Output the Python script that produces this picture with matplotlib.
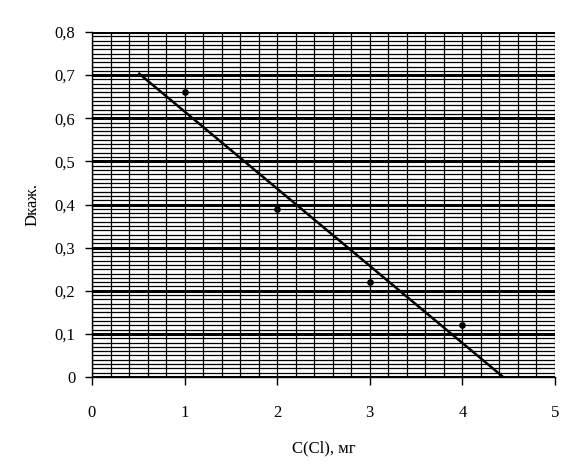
import numpy as np
import matplotlib
matplotlib.use("Agg")
import matplotlib.pyplot as plt

# Data
conc = [1, 2, 3, 4]
absorb = [0.66, 0.39, 0.22, 0.12]
trend_x = [0.5, 4.44]
trend_y = [0.705, 0.0]

x_ticks = [0, 1, 2, 3, 4, 5]
y_ticks = [0, 0.1, 0.2, 0.3, 0.4, 0.5, 0.6, 0.7, 0.8]
y_tick_labels = ["0", "0,1", "0,2", "0,3", "0,4", "0,5", "0,6", "0,7", "0,8"]

fig = plt.figure(figsize=(5.75, 4.75), dpi=100)
ax = fig.add_axes([92/575, 1 - 377/475, (555-92)/575, (377-32)/475])
ax.set_xlim(0, 5)
ax.set_ylim(0, 0.8)

# grid
for v in np.arange(0, 5.0001, 0.2):
    ax.axvline(v, color="black", lw=0.9, zorder=1)
for h in np.arange(0, 0.8001, 0.01):
    ax.axhline(h, color="black", lw=0.9, zorder=1)
for h in y_ticks:
    ax.axhline(h, color="black", lw=2.2, zorder=1.5)

ax.plot(trend_x, trend_y, color="black", lw=1.8, zorder=3, solid_capstyle="butt")
ax.plot(conc, absorb, linestyle="none", marker="o", markersize=3.8, color="black", zorder=4)

for s in ["top", "right"]:
    ax.spines[s].set_visible(False)
ax.spines["left"].set_linewidth(1.0)
ax.spines["bottom"].set_linewidth(1.0)

serif = "Liberation Serif"
fs = 12
ax.set_xticks(x_ticks)
ax.set_yticks(y_ticks)
ax.set_yticklabels(y_tick_labels, fontfamily=serif, fontsize=fs)
ax.set_xticklabels([str(t) for t in x_ticks], fontfamily=serif, fontsize=fs)
ax.tick_params(axis="x", direction="out", length=6, width=1, pad=14)
ax.tick_params(axis="y", direction="out", length=5, width=1, pad=7)

ax.set_xlabel("C(Cl), мг", fontfamily=serif, fontsize=fs, labelpad=14)
ax.set_ylabel("Dкаж.", fontfamily=serif, fontsize=fs, labelpad=10)

fig.savefig("out.png", dpi=100, facecolor="white")
